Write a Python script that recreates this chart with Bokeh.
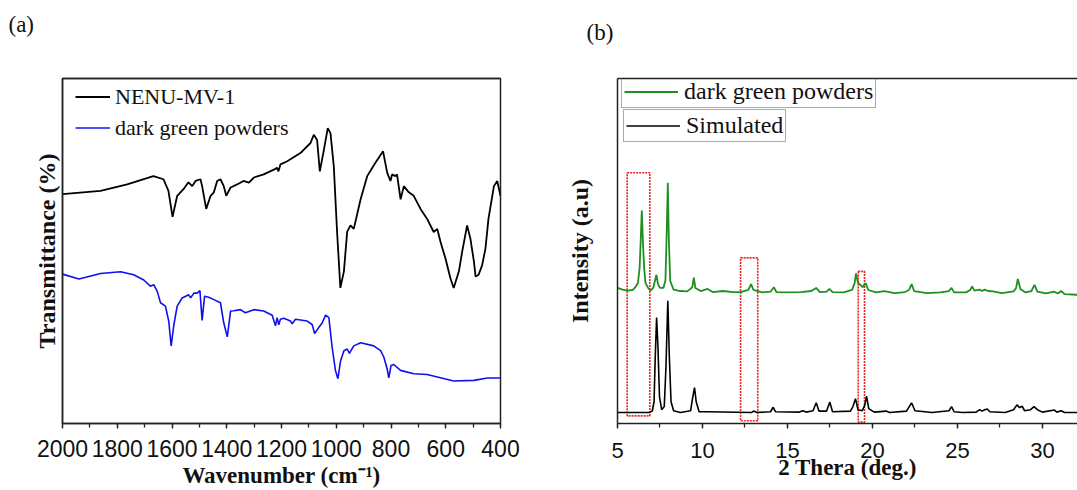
from bokeh.plotting import figure
from bokeh.layouts import row
from bokeh.models import (Range1d, SingleIntervalTicker, FixedTicker, LinearAxis,
                          Legend, LegendItem, Title)
from bokeh.embed import file_html
from bokeh.resources import INLINE

# ---------------- (a) FT-IR data ----------------
ir_nenu_wn = [2000, 1861, 1764, 1668, 1631, 1613, 1598, 1581, 1558, 1540, 1526, 1514, 1496, 1490,
              1475, 1459, 1447, 1435, 1423, 1411, 1402, 1386, 1362, 1339, 1319, 1301, 1265, 1228,
              1216, 1211, 1204, 1179, 1131, 1094, 1082, 1070, 1060, 1045, 1031, 1021, 1009, 997,
              985, 972, 960, 948, 936, 911, 887, 857, 829, 814, 802, 796, 784, 778, 765, 753, 735,
              717, 692, 668, 644, 631, 619, 601, 583, 571, 552, 540, 531, 522, 510, 497, 491, 480,
              467, 455, 444, 424, 412, 400]
ir_nenu_t = [66.5, 67.4, 69.3, 71.7, 70.8, 67.4, 59.9, 66.0, 67.9, 69.9, 68.8, 70.3, 70.8, 68.8,
             62.2, 66.0, 67.0, 70.3, 70.8, 68.8, 66.0, 68.4, 69.3, 70.3, 69.8, 71.3, 72.2, 73.6,
             74.1, 73.1, 75.1, 76.0, 78.4, 81.3, 83.7, 82.2, 73.1, 79.4, 85.6, 84.1, 74.6, 55.6,
             39.3, 44.1, 55.6, 57.4, 56.4, 65.0, 71.7, 75.6, 78.9, 72.7, 70.3, 72.2, 71.7, 72.2,
             65.0, 68.8, 67.0, 66.0, 62.2, 59.3, 55.5, 56.4, 52.6, 47.8, 42.1, 39.3, 44.1, 49.8,
             53.6, 57.4, 53.6, 46.9, 42.6, 43.1, 45.9, 50.7, 59.3, 68.8, 70.3, 66.0]

ir_green_wn = [2000, 1940, 1861, 1788, 1740, 1703, 1679, 1666, 1654, 1642, 1624, 1612, 1603, 1593,
               1581, 1563, 1539, 1532, 1520, 1508, 1498, 1490, 1481, 1466, 1447, 1423, 1411, 1398,
               1386, 1374, 1350, 1332, 1301, 1265, 1234, 1222, 1216, 1210, 1204, 1192, 1167, 1161,
               1149, 1106, 1088, 1079, 1064, 1051, 1039, 1027, 1015, 1003, 994, 984, 972, 960, 952,
               936, 911, 863, 838, 826, 814, 808, 800, 790, 765, 717, 668, 631, 571, 497, 448, 400]
ir_green_t = [43.3, 41.9, 43.5, 44.0, 43.1, 41.6, 39.8, 40.2, 38.3, 35.0, 34.0, 29.7, 22.5, 28.7,
              34.0, 36.4, 37.3, 36.4, 37.8, 37.8, 38.5, 29.9, 36.9, 36.6, 35.9, 35.0, 29.2, 25.1,
              32.6, 32.7, 33.0, 32.1, 33.0, 32.6, 31.4, 28.3, 30.7, 28.6, 30.2, 30.5, 29.7, 28.9,
              30.2, 29.7, 28.7, 26.1, 27.8, 29.2, 31.4, 30.7, 22.1, 15.4, 13.0, 18.2, 21.1, 21.6,
              20.3, 22.5, 23.4, 22.5, 21.1, 19.2, 15.8, 13.2, 16.8, 17.1, 15.4, 14.4, 14.2, 13.5,
              12.3, 12.5, 13.2, 13.2]

# ---------------- (b) PXRD data ----------------
xrd_green_2t = [5.0, 5.3, 5.57, 5.9, 6.05, 6.2, 6.3, 6.37, 6.43, 6.5, 6.57, 6.65, 6.8, 6.94, 7.1,
                7.2, 7.29, 7.38, 7.5, 7.7, 7.82, 7.9, 7.96, 8.02, 8.1, 8.3, 8.7, 9.1, 9.4, 9.49,
                9.58, 9.9, 10.3, 10.6, 11.2, 11.8, 12.24, 12.7, 12.86, 13.0, 13.5, 14.0, 14.2,
                14.35, 15.0, 15.8, 16.4, 16.69, 16.9, 17.3, 17.47, 17.65, 18.3, 18.8, 18.95,
                19.03, 19.15, 19.29, 19.42, 19.6, 19.75, 20.2, 20.7, 21.3, 21.9, 22.15, 22.3,
                22.45, 23.2, 24.0, 24.5, 24.65, 24.8, 25.5, 25.75, 25.86, 26.0, 26.3, 26.45,
                26.6, 26.8, 27.1, 27.6, 28.3, 28.45, 28.55, 28.7, 29.0, 29.35, 29.53, 29.7,
                30.2, 30.7, 30.9, 31.1, 31.3, 32.1]
xrd_green_i = [39.3, 38.8, 38.5, 38.7, 39.5, 40.7, 45.0, 53.6, 61.7, 52.1, 45.0, 40.7, 39.3,
               38.5, 39.3, 41.3, 43.1, 40.4, 39.3, 39.3, 41.5, 56.4, 69.8, 53.6, 41.3, 38.8,
               38.4, 38.3, 39.5, 42.3, 39.3, 38.4, 39.0, 38.1, 38.4, 38.1, 38.1, 38.7, 40.4,
               38.7, 38.0, 38.2, 39.5, 38.1, 38.0, 38.1, 38.4, 39.3, 38.1, 38.2, 39.0, 38.1,
               38.0, 38.7, 40.7, 43.5, 40.7, 40.2, 39.5, 40.7, 38.7, 38.0, 38.4, 37.8, 38.1,
               38.7, 40.4, 38.4, 37.8, 38.0, 38.4, 39.3, 38.0, 38.0, 38.7, 39.7, 38.5, 38.8,
               38.4, 38.8, 38.4, 38.3, 37.8, 38.3, 39.3, 41.9, 39.0, 38.0, 38.4, 40.2, 38.2,
               37.7, 38.2, 37.7, 38.4, 37.5, 37.3]

xrd_sim_2t = [5.0, 6.9, 7.05, 7.15, 7.22, 7.3, 7.38, 7.47, 7.6, 7.75, 7.85, 7.96, 8.05, 8.15, 8.3,
              8.7, 9.3, 9.43, 9.53, 9.63, 9.8, 10.3, 12.9, 13.0, 13.2, 14.0, 14.16, 14.3, 15.7,
              15.9, 16.1, 16.5, 16.69, 16.85, 17.3, 17.49, 17.65, 18.7, 18.85, 19.0, 19.15, 19.4,
              19.55, 19.65, 19.78, 20.1, 20.8, 21.0, 22.0, 22.3, 22.5, 23.5, 24.5, 24.65, 24.8,
              25.3, 26.1, 26.3, 26.45, 26.6, 26.75, 26.9, 27.8, 28.3, 28.5, 28.65, 28.8, 28.95,
              29.3, 29.5, 29.7, 30.0, 30.7, 30.85, 31.1, 31.3, 32.1]
xrd_sim_i = [3.2, 3.2, 3.7, 6.3, 19.2, 30.7, 22.1, 7.7, 4.0, 4.9, 16.3, 35.6, 19.2, 6.3, 3.7,
             3.2, 3.7, 7.7, 10.4, 6.3, 3.4, 3.4, 3.2, 3.6, 3.2, 3.4, 4.7, 3.4, 3.3, 3.7, 3.3,
             3.7, 6.0, 3.6, 3.6, 6.2, 3.4, 3.6, 4.9, 7.2, 4.0, 3.7, 5.4, 7.9, 4.3, 3.3, 3.6,
             3.2, 3.6, 6.0, 3.7, 3.2, 3.7, 4.9, 3.4, 3.2, 3.3, 4.0, 3.6, 4.0, 4.2, 3.4, 3.2,
             4.0, 5.4, 4.6, 5.0, 3.7, 4.0, 4.9, 4.0, 3.3, 3.9, 3.3, 3.7, 3.2, 3.2]

box_left = [5.57, 12.24, 19.16]
box_right = [6.9, 13.25, 19.53]
box_bottom = [2.2, 0.8, 0.4]
box_top = [72.7, 48.0, 44.1]

SERIF = "Liberation Serif"
SANS = "Liberation Sans"
AX = "#222222"
TXT = "#111111"


def style_bottom(ax, tick_size):
    ax.axis_line_color = AX
    ax.axis_line_width = 1.5
    ax.major_tick_line_color = AX
    ax.minor_tick_line_color = AX
    ax.major_tick_line_width = 1.3
    ax.minor_tick_line_width = 1.3
    ax.major_tick_out = 5
    ax.major_tick_in = 0
    ax.minor_tick_out = 4
    ax.minor_tick_in = 0
    ax.major_label_text_font = SANS
    ax.major_label_text_font_size = tick_size
    ax.major_label_text_color = TXT
    ax.axis_label_text_font = SERIF
    ax.axis_label_text_font_style = "bold"
    ax.axis_label_text_font_size = "23px"
    ax.axis_label_text_color = TXT


def style_left(ax):
    ax.ticker = FixedTicker(ticks=[])
    ax.axis_line_color = AX
    ax.axis_line_width = 1.5
    ax.major_tick_line_color = None
    ax.minor_tick_line_color = None
    ax.axis_label_text_font = SERIF
    ax.axis_label_text_font_style = "bold"
    ax.axis_label_text_font_size = "24px"
    ax.axis_label_text_color = TXT


def add_top(p, text, offset, lift, anchor):
    p.grid.visible = False
    # top frame line; one undrawn tick gives the axis height that lifts the panel tag
    top = LinearAxis(ticker=FixedTicker(ticks=[anchor]), major_tick_line_color=None,
                     minor_tick_line_color=None, major_tick_out=lift, major_tick_in=0,
                     minor_tick_out=0, major_label_text_color=None,
                     major_label_text_font_size="10px", major_label_standoff=0,
                     axis_line_color=AX, axis_line_width=1.5)
    p.add_layout(top, "above")
    p.add_layout(Title(text=text, align="left", offset=offset, standoff=0,
                       text_font=SERIF, text_font_style="normal", text_font_size="23px",
                       text_color=TXT), "above")


# ---------------- figure (a) ----------------
pa = figure(width=560, height=490, output_backend="svg", toolbar_location=None,
            x_range=Range1d(2000, 400), y_range=Range1d(0, 100),
            min_border_left=62, min_border_right=60, min_border_top=78, min_border_bottom=63)
pa.outline_line_color = AX
pa.outline_line_width = 1.5
la = pa.line(ir_nenu_wn, ir_nenu_t, line_color="black", line_width=1.8)
lb = pa.line(ir_green_wn, ir_green_t, line_color="#1010ee", line_width=1.6)
xa = pa.below[0]
style_bottom(xa, "23px")
xa.ticker = SingleIntervalTicker(interval=200, num_minor_ticks=2)
xa.major_label_standoff = 11
xa.axis_label = "Wavenumber (cm⁻¹)"
xa.axis_label_standoff = 3
ya = pa.left[0]
style_left(ya)
ya.axis_label = "Transmittance (%)"
ya.axis_label_standoff = 3
add_top(pa, "(a)", -54, 42, 1200)

leg_a = Legend(items=[LegendItem(label="NENU-MV-1", renderers=[la]),
                      LegendItem(label="dark green powders", renderers=[lb])],
               location=(13, 280), border_line_color=None, background_fill_alpha=0,
               padding=0, spacing=0, glyph_width=35, glyph_height=31, label_height=31,
               label_standoff=5, label_text_font=SERIF, label_text_font_size="22px",
               label_text_color=TXT)
pa.add_layout(leg_a, "center")

# ---------------- figure (b) ----------------
pb = figure(width=517, height=490, output_backend="svg", toolbar_location=None,
            x_range=Range1d(5, 32.06), y_range=Range1d(0, 100),
            min_border_left=57, min_border_right=0, min_border_top=78, min_border_bottom=63)
pb.outline_line_color = None
pb.quad(left=box_left, right=box_right, bottom=box_bottom, top=box_top, fill_color=None,
        line_color="#ee2222", line_width=1.6, line_dash="2 1")
lg = pb.line(xrd_green_2t, xrd_green_i, line_color="#1f8f1f", line_width=1.8)
ls = pb.line(xrd_sim_2t, xrd_sim_i, line_color="black", line_width=1.6)
xb = pb.below[0]
style_bottom(xb, "22px")
xb.ticker = SingleIntervalTicker(interval=5, num_minor_ticks=2)
xb.major_label_standoff = 14
xb.axis_label = "2 Thera (deg.)"
xb.axis_label_standoff = -6
yb = pb.left[0]
style_left(yb)
yb.axis_label = "Intensity (a.u)"
yb.axis_label_standoff = 25
add_top(pb, "(b)", -31, 34, 20)

for items, loc in (([LegendItem(label="dark green powders", renderers=[lg])], (4, 315)),
                   ([LegendItem(label="Simulated", renderers=[ls])], (6, 281))):
    pb.add_layout(Legend(items=items, location=loc, border_line_color="#555555",
                         border_line_width=1, background_fill_alpha=0, padding=2, spacing=0,
                         glyph_width=54, glyph_height=21, label_height=21, label_standoff=6,
                         label_text_font=SERIF, label_text_font_size="24px",
                         label_text_color=TXT), "center")

layout = row(pa, pb)
open("out.html", "w").write(file_html(layout, INLINE))
